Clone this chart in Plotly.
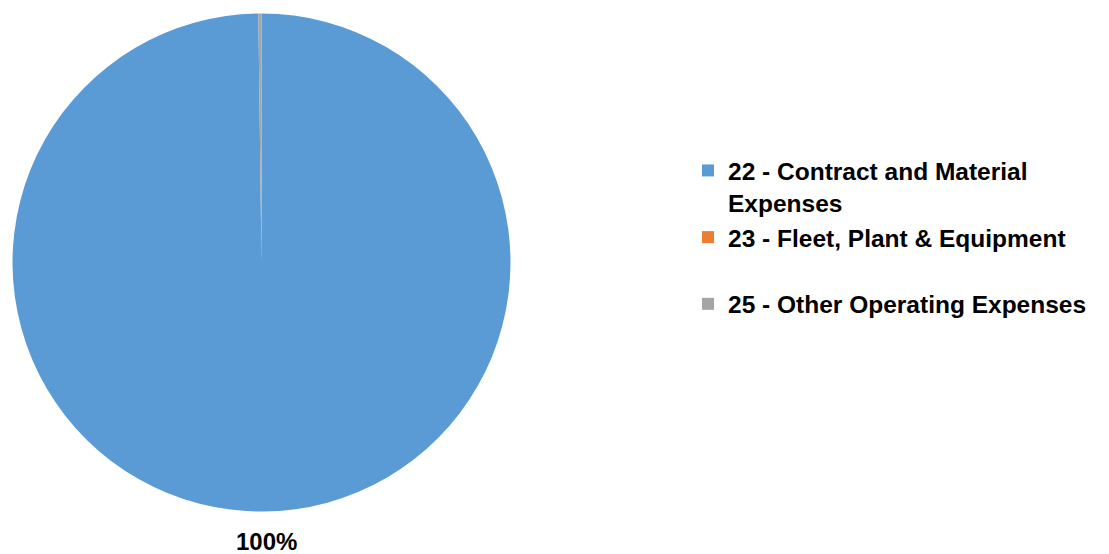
import plotly.graph_objects as go

# Expense categories and their share of the total
categories = [
    "22 - Contract and Material<br>Expenses",
    "23 - Fleet, Plant & Equipment<br> ",
    "25 - Other Operating Expenses",
]
values = [99.8, 0.0, 0.2]
colors = ["#5B9BD5", "#ED7D31", "#A5A5A5"]

W, H = 1109, 554
cx, cy, r = 261.5, 262.5, 249.0  # pie centre and radius in pixels

fig = go.Figure(
    go.Pie(
        labels=categories,
        values=values,
        marker=dict(colors=colors, line=dict(width=0)),
        sort=False,
        direction="clockwise",
        rotation=0,
        textinfo="none",
        hoverinfo="label+percent",
        domain=dict(
            x=[(cx - r) / W, (cx + r) / W],
            y=[1 - (cy + r) / H, 1 - (cy - r) / H],
        ),
    )
)

# Percentage label for the dominant slice, placed beneath the pie
share = values[0] / sum(values)
fig.add_annotation(
    text=f"{share:.0%}",
    x=266 / W,
    y=1 - 541 / H,
    xref="paper",
    yref="paper",
    xanchor="center",
    yanchor="middle",
    showarrow=False,
    font=dict(family="Liberation Sans, Arial", size=24, color="#000000", weight="bold"),
)

fig.update_layout(
    width=W,
    height=H,
    margin=dict(l=0, r=0, t=0, b=0),
    paper_bgcolor="white",
    plot_bgcolor="white",
    showlegend=True,
    legend=dict(
        x=688 / W,
        xanchor="left",
        y=1 - 148 / H,
        yanchor="top",
        valign="top",
        font=dict(family="Liberation Sans, Arial", size=24.5, color="#000000", weight="bold"),
        bgcolor="rgba(0,0,0,0)",
    ),
)

fig.write_html("out.html")
